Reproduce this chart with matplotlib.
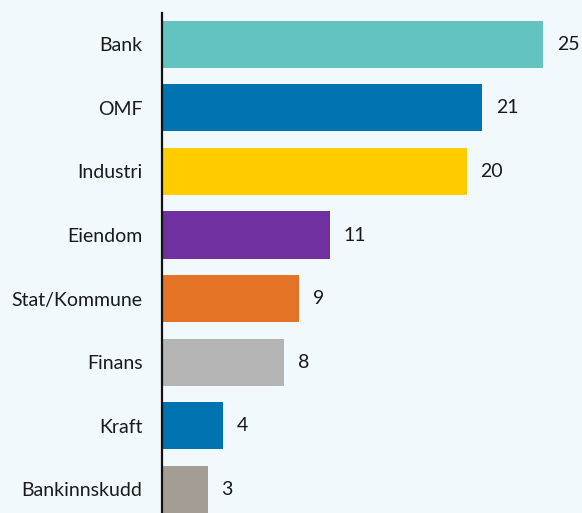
import matplotlib
matplotlib.use("Agg")
import matplotlib.pyplot as plt
import numpy as np

# sektorfordeling
categories = ["Bank", "OMF", "Industri", "Eiendom", "Stat/Kommune", "Finans", "Kraft", "Bankinnskudd"]
values = [25, 21, 20, 11, 9, 8, 4, 3]
colors = ["#63c3c0", "#0073b0", "#ffcc00", "#7030a0", "#e57325", "#b4b4b4", "#0073b0", "#a49d96"]

bg = "#f2f9fc"
plt.rcParams['font.family'] = ['Lato', 'DejaVu Sans']

fig = plt.figure(figsize=(5.82, 5.13), dpi=100, facecolor=bg)
ax = fig.add_axes([162/582, 0, 420/582, 500/513])
ax.set_facecolor(bg)

y = np.arange(len(categories))
ax.barh(y, values, height=0.74, color=colors)
for yi, v in zip(y, values):
    ax.text(v + 0.9, yi, str(v), va='center', ha='left', fontsize=14, color='#1a1a1a')

ax.set_xlim(0, 420/15.24)
ax.set_ylim(7.37, -0.49)
ax.set_yticks(y)
ax.set_yticklabels(categories, fontsize=14, color='#1a1a1a')
ax.tick_params(axis='y', length=0, pad=14)
ax.set_xticks([])
for s in ['top', 'right', 'bottom']:
    ax.spines[s].set_visible(False)
ax.spines['left'].set_linewidth(1.6)
ax.spines['left'].set_color('#111111')

fig.savefig("out.png", dpi=100, facecolor=bg)
